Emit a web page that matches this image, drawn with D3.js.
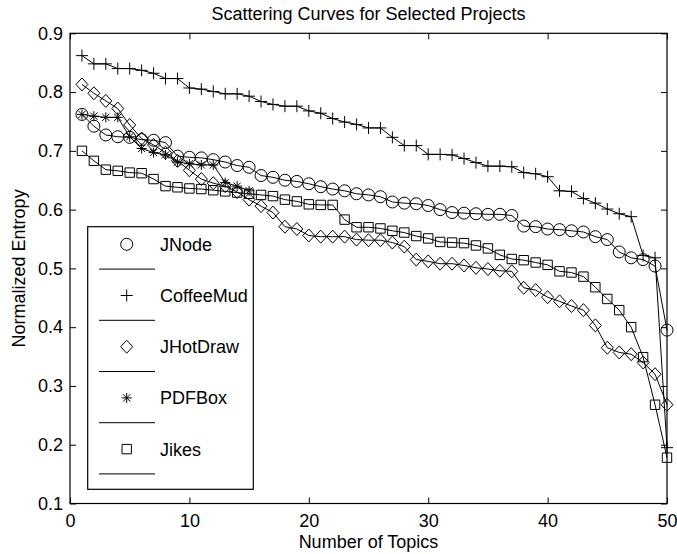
<!DOCTYPE html>
<html>
<head>
<meta charset="utf-8">
<title>Scattering Curves for Selected Projects</title>
<script src="https://d3js.org/d3.v7.min.js"></script>
<style>
  body { margin: 0; background: #fff; }
  svg text { font-family: "Liberation Sans", Arial, Helvetica, sans-serif; font-size: 18px; fill: #000; }
  .curve { fill: none; stroke: #000; stroke-width: 1px; }
  .mark { fill: none; stroke: #000; stroke-width: 1px; }
  .axis line { stroke: #000; }
</style>
</head>
<body>
<script>
// number of topics (x) shared by every project
var topics = [1, 2, 3, 4, 5, 6, 7, 8, 9, 10, 11, 12, 13, 14, 15, 16, 17, 18, 19, 20,
  21, 22, 23, 24, 25, 26, 27, 28, 29, 30, 31, 32, 33, 34, 35, 36, 37, 38, 39, 40,
  41, 42, 43, 44, 45, 46, 47, 48, 49, 50];

// normalized entropy per project
var jnode = [0.762, 0.742, 0.727, 0.724, 0.723, 0.719, 0.718, 0.714, 0.691, 0.689,
  0.688, 0.685, 0.681, 0.675, 0.672, 0.658, 0.655, 0.650, 0.648, 0.644,
  0.639, 0.635, 0.632, 0.627, 0.625, 0.622, 0.613, 0.611, 0.610, 0.607,
  0.600, 0.595, 0.594, 0.593, 0.592, 0.592, 0.590, 0.572, 0.571, 0.567,
  0.566, 0.564, 0.562, 0.554, 0.549, 0.528, 0.518, 0.515, 0.504, 0.395];

var coffeeMud = [0.862, 0.848, 0.848, 0.840, 0.840, 0.837, 0.832, 0.823, 0.823, 0.807,
  0.805, 0.801, 0.797, 0.797, 0.793, 0.784, 0.779, 0.776, 0.776, 0.768,
  0.764, 0.755, 0.749, 0.745, 0.739, 0.739, 0.723, 0.709, 0.709, 0.694,
  0.694, 0.693, 0.687, 0.680, 0.674, 0.674, 0.673, 0.663, 0.661, 0.656,
  0.632, 0.631, 0.619, 0.611, 0.601, 0.593, 0.588, 0.522, 0.518, 0.195];

var jhotdraw = [0.813, 0.798, 0.785, 0.772, 0.744, 0.721, 0.710, 0.697, 0.683, 0.667,
  0.652, 0.645, 0.640, 0.630, 0.617, 0.606, 0.595, 0.571, 0.567, 0.556,
  0.554, 0.554, 0.554, 0.549, 0.548, 0.548, 0.544, 0.537, 0.515, 0.512,
  0.508, 0.508, 0.505, 0.501, 0.499, 0.496, 0.495, 0.467, 0.463, 0.451,
  0.444, 0.436, 0.429, 0.403, 0.365, 0.357, 0.354, 0.340, 0.320, 0.268];

var pdfbox = [0.762, 0.759, 0.757, 0.757, 0.724, 0.704, 0.697, 0.693, 0.681, 0.678,
  0.676, 0.676, 0.646, 0.640, 0.632];

var jikes = [0.700, 0.683, 0.668, 0.666, 0.663, 0.662, 0.652, 0.640, 0.638, 0.636,
  0.635, 0.633, 0.631, 0.629, 0.627, 0.625, 0.623, 0.617, 0.614, 0.609,
  0.608, 0.608, 0.583, 0.570, 0.570, 0.568, 0.564, 0.561, 0.555, 0.551,
  0.545, 0.544, 0.543, 0.539, 0.534, 0.523, 0.516, 0.514, 0.510, 0.506,
  0.495, 0.493, 0.486, 0.468, 0.448, 0.429, 0.400, 0.349, 0.268, 0.178];

var projectNames = ["JNode", "CoffeeMud", "JHotDraw", "PDFBox", "Jikes"];
var markerTypes = ["circle", "plus", "diamond", "star", "square"];
var xTicks = [0, 10, 20, 30, 40, 50];
var yTicks = [0.1, 0.2, 0.3, 0.4, 0.5, 0.6, 0.7, 0.8, 0.9];

var series = [jnode, coffeeMud, jhotdraw, pdfbox, jikes].map(function (vals, i) {
  return {
    name: projectNames[i],
    marker: markerTypes[i],
    points: vals.map(function (v, j) { return { t: topics[j], v: v }; })
  };
});

// page and plot box
var W = 677, H = 554;
var plotLeft = 70, plotRight = 667, plotTop = 33.3, plotBottom = 503.5;

var x = d3.scaleLinear().domain([0, 50]).range([plotLeft, plotRight]);
var y = d3.scaleLinear().domain([0.1, 0.9]).range([plotBottom, plotTop]);

// marker shapes, centred on 0,0
function markerPath(type) {
  switch (type) {
    case "circle":
      var p = d3.path();
      p.arc(0, 0, 6, 0, 2 * Math.PI);
      p.closePath();
      return p.toString();
    case "plus":
      return "M-6,0H6M0,-6V6";
    case "diamond":
      return "M0,-6.5L6,0L0,6.5L-6,0Z";
    case "star":
      return "M-5,0H5M0,-5V5M-3.6,-3.6L3.6,3.6M-3.6,3.6L3.6,-3.6";
    case "square":
      return "M-4.7,-4.7H4.7V4.7H-4.7Z";
  }
}

var svg = d3.select("body").append("svg")
  .attr("width", W)
  .attr("height", H)
  .style("display", "block");

svg.append("rect")
  .attr("width", W).attr("height", H)
  .attr("fill", "#fff");

// lines and markers
var line = d3.line()
  .x(function (d) { return x(d.t); })
  .y(function (d) { return y(d.v); });

series.forEach(function (s) {
  svg.append("path")
    .datum(s.points)
    .attr("class", "curve")
    .attr("d", line);

  svg.selectAll(null)
    .data(s.points)
    .enter().append("path")
    .attr("class", "mark")
    .attr("d", markerPath(s.marker))
    .attr("transform", function (d) {
      return "translate(" + x(d.t) + "," + y(d.v) + ")";
    });
});

// box with inward ticks on all four sides
svg.append("rect")
  .attr("x", plotLeft).attr("y", plotTop)
  .attr("width", plotRight - plotLeft).attr("height", plotBottom - plotTop)
  .attr("fill", "none")
  .attr("stroke", "#000")
  .attr("stroke-width", 1.2);

svg.append("g")
  .attr("class", "axis")
  .attr("transform", "translate(0," + plotBottom + ")")
  .call(d3.axisBottom(x).tickValues(xTicks).tickSize(-6).tickSizeOuter(0).tickPadding(11));
svg.append("g")
  .attr("class", "axis")
  .attr("transform", "translate(" + plotLeft + ",0)")
  .call(d3.axisLeft(y).tickValues(yTicks).tickFormat(d3.format(".1f"))
    .tickSize(-6).tickSizeOuter(0).tickPadding(7));
svg.append("g")
  .attr("class", "axis")
  .attr("transform", "translate(0," + plotTop + ")")
  .call(d3.axisTop(x).tickValues(xTicks).tickSize(-6).tickSizeOuter(0).tickFormat(""));
svg.append("g")
  .attr("class", "axis")
  .attr("transform", "translate(" + plotRight + ",0)")
  .call(d3.axisRight(y).tickValues(yTicks).tickSize(-6).tickSizeOuter(0).tickFormat(""));

svg.selectAll(".axis .domain").remove();
svg.selectAll(".axis text")
  .attr("font-family", null)
  .attr("font-size", null);

// titles
svg.append("text")
  .attr("x", (plotLeft + plotRight) / 2)
  .attr("y", 19.5)
  .attr("text-anchor", "middle")
  .text("Scattering Curves for Selected Projects");

svg.append("text")
  .attr("x", (plotLeft + plotRight) / 2)
  .attr("y", 547.5)
  .attr("text-anchor", "middle")
  .text("Number of Topics");

svg.append("text")
  .attr("transform", "translate(25," + (plotTop + plotBottom) / 2 + ") rotate(-90)")
  .attr("text-anchor", "middle")
  .text("Normalized Entropy");

// legend (marker row, then line row, as in the original)
var legend = svg.append("g");
legend.append("rect")
  .attr("x", 87.7).attr("y", 226.7)
  .attr("width", 253.3 - 87.7).attr("height", 489.3 - 226.7)
  .attr("fill", "#fff")
  .attr("stroke", "#000")
  .attr("stroke-width", 1.2);

var rowGap = 51.2;
series.forEach(function (s, i) {
  var my = 244.3 + i * rowGap;
  legend.append("path")
    .attr("class", "mark")
    .attr("d", markerPath(s.marker))
    .attr("transform", "translate(126.7," + my + ")");
  legend.append("text")
    .attr("x", 160)
    .attr("y", my)
    .attr("dy", "0.36em")
    .text(s.name);
  legend.append("line")
    .attr("x1", 99).attr("x2", 155)
    .attr("y1", my + 24.8).attr("y2", my + 24.8)
    .attr("stroke", "#000");
});
</script>
</body>
</html>
